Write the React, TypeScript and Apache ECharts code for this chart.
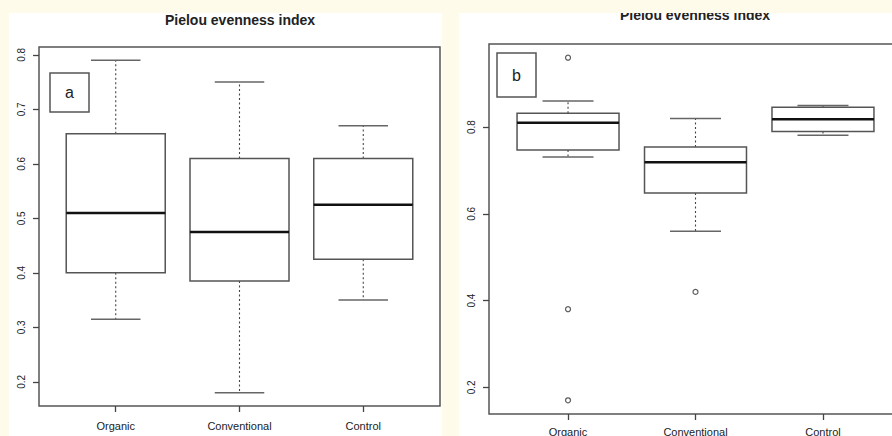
import React, { useEffect, useRef } from "react";
import * as echarts from "echarts";

// ---------- data ----------
const categories = ["Organic", "Conventional", "Control"];
// [min, Q1, median, Q3, max] per category
const leftBoxes = [
  [0.315, 0.4, 0.51, 0.655, 0.79],
  [0.18, 0.385, 0.475, 0.61, 0.75],
  [0.35, 0.425, 0.525, 0.61, 0.67],
];
const rightBoxes = [
  [0.731, 0.747, 0.81, 0.832, 0.86],
  [0.56, 0.648, 0.719, 0.754, 0.82],
  [0.781, 0.79, 0.818, 0.846, 0.85],
];
// [category position (1-based), value]
const rightOutliers = [
  [1, 0.96],
  [1, 0.38],
  [1, 0.17],
  [2, 0.42],
];
const leftTickRange = [0.2, 0.8, 0.1];
const rightTickRange = [0.2, 0.8, 0.2];
const titleText = "Pielou evenness index";

// ---------- layout ----------
const FONT = '"Liberation Sans", Arial, sans-serif';
const panels = [
  { frame: { l: 39, t: 47, r: 440, b: 406 }, x: [0.38, 3.62], y: [0.1556, 0.8144], ticks: leftTickRange, xMargin: 14 },
  { frame: { l: 489, t: 44, r: 902, b: 414 }, x: [0.38, 3.62], y: [0.1384, 0.9916], ticks: rightTickRange, xMargin: 12 },
];

function renderBox(params: any, api: any) {
  const x = api.value(0);
  const mn = api.value(1), q1 = api.value(2), md = api.value(3), q3 = api.value(4), mx = api.value(5);
  const pMin = api.coord([x, mn]);
  const pQ1 = api.coord([x, q1]);
  const pMd = api.coord([x, md]);
  const pQ3 = api.coord([x, q3]);
  const pMax = api.coord([x, mx]);
  const bw = api.size([0.8, 0])[0];
  const cw = api.size([0.4, 0])[0];
  const cx = pMin[0];
  const line = "#444";
  return {
    type: "group",
    children: [
      { type: "line", shape: { x1: cx, y1: pQ3[1], x2: cx, y2: pMax[1] }, style: { stroke: line, lineWidth: 1.1, lineDash: [2, 2.5] } },
      { type: "line", shape: { x1: cx, y1: pQ1[1], x2: cx, y2: pMin[1] }, style: { stroke: line, lineWidth: 1.1, lineDash: [2, 2.5] } },
      { type: "line", shape: { x1: cx - cw / 2, y1: pMax[1], x2: cx + cw / 2, y2: pMax[1] }, style: { stroke: "#666", lineWidth: 1.5 } },
      { type: "line", shape: { x1: cx - cw / 2, y1: pMin[1], x2: cx + cw / 2, y2: pMin[1] }, style: { stroke: "#666", lineWidth: 1.5 } },
      { type: "rect", shape: { x: cx - bw / 2, y: pQ3[1], width: bw, height: pQ1[1] - pQ3[1] }, style: { fill: "#fff", stroke: "#555", lineWidth: 1.5 } },
      { type: "line", shape: { x1: cx - bw / 2, y1: pMd[1], x2: cx + bw / 2, y2: pMd[1] }, style: { stroke: "#111", lineWidth: 2.5 } },
    ],
  };
}

function buildOption() {
  const grid: any[] = [];
  const xAxis: any[] = [];
  const yAxis: any[] = [];
  const series: any[] = [];
  const boxSets = [leftBoxes, rightBoxes];
  const outlierSets = [[], rightOutliers];

  panels.forEach((p, i) => {
    const f = p.frame;
    const w = f.r - f.l;
    const h = f.b - f.t;
    const px = (v: number) => f.l + ((v - p.x[0]) / (p.x[1] - p.x[0])) * w;
    const py = (v: number) => f.t + ((p.y[1] - v) / (p.y[1] - p.y[0])) * h;
    // frame grid (data)
    grid.push({
      left: f.l, top: f.t, width: w, height: h, show: true, borderColor: "#555", borderWidth: 1.5,
      backgroundColor: "transparent", containLabel: false, outerBoundsMode: "none",
    });
    const gFrame = grid.length - 1;
    xAxis.push({ type: "value", gridIndex: gFrame, min: p.x[0], max: p.x[1], show: false });
    yAxis.push({ type: "value", gridIndex: gFrame, min: p.y[0], max: p.y[1], show: false });
    const ax = xAxis.length - 1;
    // tick grid
    const [t0, t1, step] = p.ticks;
    const tl = px(1), tr = px(3), tt = py(t1), tb = py(t0);
    grid.push({ left: tl, top: tt, width: tr - tl, height: tb - tt, show: false, containLabel: false, outerBoundsMode: "none" });
    const gTick = grid.length - 1;
    xAxis.push({
      type: "category",
      gridIndex: gTick,
      data: categories,
      boundaryGap: false,
      position: "bottom",
      offset: f.b - tb,
      axisLine: { show: false },
      axisTick: { show: true, length: 6, lineStyle: { color: "#444", width: 1.3 } },
      axisLabel: { color: "#222", fontSize: 11, fontFamily: FONT, margin: p.xMargin, hideOverlap: false },
      splitLine: { show: false },
    });
    yAxis.push({
      type: "value",
      gridIndex: gTick,
      min: t0,
      max: t1,
      interval: step,
      position: "left",
      offset: tl - f.l,
      axisLine: { show: false },
      axisTick: { show: true, length: 6, lineStyle: { color: "#444", width: 1.3 } },
      axisLabel: { color: "#222", fontSize: 10, fontFamily: FONT, rotate: 90, margin: 13, formatter: (v: number) => v.toFixed(1) },
      splitLine: { show: false },
    });

    series.push({
      type: "custom",
      xAxisIndex: ax,
      yAxisIndex: ax,
      renderItem: renderBox,
      dimensions: ["x", "min", "q1", "median", "q3", "max"],
      encode: { x: 0, y: [1, 2, 3, 4, 5] },
      data: boxSets[i].map((b, k) => [k + 1, ...b]),
      clip: false,
      z: 3,
    });
    if (outlierSets[i].length) {
      series.push({
        type: "scatter",
        xAxisIndex: ax,
        yAxisIndex: ax,
        data: outlierSets[i],
        symbol: "circle",
        symbolSize: 5,
        itemStyle: { color: "#fff", borderColor: "#333", borderWidth: 1.2 },
        z: 4,
      });
    }
  });

  const graphic: any[] = [
    { type: "rect", shape: { x: 9, y: 12, width: 433, height: 430 }, style: { fill: "#fff" }, z: -10 },
    { type: "rect", shape: { x: 459, y: 13, width: 440, height: 430 }, style: { fill: "#fff" }, z: -10 },
    { type: "text", x: 240, y: 20, style: { text: titleText, font: `bold 14px ${FONT}`, fill: "#222", align: "center", verticalAlign: "middle" }, z: 10 },
    { type: "text", x: 695, y: 15, style: { text: titleText, font: `bold 14px ${FONT}`, fill: "#222", align: "center", verticalAlign: "middle" }, z: 10 },
    { type: "rect", shape: { x: 0, y: 0, width: 892, height: 13 }, style: { fill: "#fffbea" }, z: 50 },
    { type: "rect", shape: { x: 50, y: 73, width: 39, height: 39 }, style: { fill: "#fff", stroke: "#555", lineWidth: 1.5 }, z: 10 },
    { type: "text", x: 69.5, y: 92.5, style: { text: "a", font: `16px ${FONT}`, fill: "#222", align: "center", verticalAlign: "middle" }, z: 11 },
    { type: "rect", shape: { x: 497, y: 53, width: 39, height: 44 }, style: { fill: "#fff", stroke: "#555", lineWidth: 1.5 }, z: 10 },
    { type: "text", x: 516.5, y: 75, style: { text: "b", font: `16px ${FONT}`, fill: "#222", align: "center", verticalAlign: "middle" }, z: 11 },
  ];

  return { animation: false, backgroundColor: "#fffbea", grid, xAxis, yAxis, series, graphic };
}

export default function App() {
  const ref = useRef<HTMLDivElement>(null);
  useEffect(() => {
    if (!ref.current) return;
    const chart = echarts.init(ref.current, undefined, { renderer: "svg" });
    chart.setOption(buildOption() as any);
    return () => chart.dispose();
  }, []);
  return <div ref={ref} style={{ position: "fixed", left: 0, top: 0, width: 892, height: 436 }} />;
}
